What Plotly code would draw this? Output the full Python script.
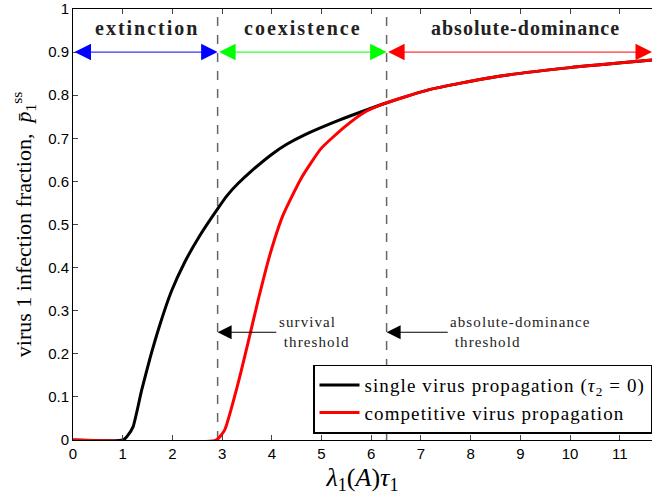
import plotly.graph_objects as go

# ---- data ----
single_x = [0, 1.01, 1.1, 1.21, 1.38, 1.55, 1.75, 1.98, 2.25, 2.55, 2.92, 3.1, 3.32, 3.6,
            3.99, 4.3, 4.66, 5.33, 5.86, 6.30, 7.17, 8.51, 10.0, 11.7]
single_y = [0, 0, 0.01, 0.031, 0.115, 0.19, 0.268, 0.345, 0.413, 0.474, 0.538, 0.567, 0.595, 0.625,
            0.662, 0.686, 0.708, 0.741, 0.764, 0.782, 0.813, 0.843, 0.864, 0.882]

comp_x = [0, 2.88, 3.05, 3.32, 3.52, 3.72, 3.95, 4.22, 4.59, 4.99, 5.46, 5.86, 6.30,
          7.17, 8.51, 10.0, 11.7]
comp_y = [0, 0, 0.023, 0.131, 0.225, 0.322, 0.425, 0.52, 0.607, 0.676, 0.726, 0.760, 0.782,
          0.813, 0.843, 0.864, 0.882]

survival_threshold = 2.91
dominance_threshold = 6.31
x_max = 11.65

region_names = ["extinction", "coexistence", "absolute-dominance"]
region_bounds = [0, survival_threshold, dominance_threshold, x_max]
region_colors = ["#0000ff", "#00ff00", "#ff0000"]
region_arrow_y = 0.9
region_label_y = 0.957

x_ticks = list(range(0, 12))
y_ticks = [0, 0.1, 0.2, 0.3, 0.4, 0.5, 0.6, 0.7, 0.8, 0.9, 1]

SERIF = "Liberation Serif"
SANS = "Liberation Sans"


def spaced(text, px):
    return '<span style="letter-spacing:%spx">%s</span>' % (px, text)


fig = go.Figure()

# threshold dashed lines
for xt in [survival_threshold, dominance_threshold]:
    fig.add_trace(go.Scatter(x=[xt, xt], y=[0, 1], mode="lines",
                             line=dict(color="#666666", width=1.5, dash="dash"),
                             showlegend=False, hoverinfo="skip"))

fig.add_trace(go.Scatter(x=single_x, y=single_y, mode="lines",
                         line=dict(color="black", width=3, shape="spline", smoothing=0.5),
                         name=spaced("single virus propagation (<i>τ</i><sub>2</sub> = 0)", 1.1),
                         cliponaxis=False))
fig.add_trace(go.Scatter(x=comp_x, y=comp_y, mode="lines",
                         line=dict(color="red", width=3, shape="spline", smoothing=0.5),
                         name=spaced("competitive virus propagation", 1.1),
                         cliponaxis=False))

annotations = []
for i, name in enumerate(region_names):
    x0, x1 = region_bounds[i], region_bounds[i + 1]
    annotations.append(dict(x=x1, y=region_arrow_y, ax=x0, ay=region_arrow_y,
                            xref="x", yref="y", axref="x", ayref="y",
                            text="", showarrow=True, arrowside="end+start",
                            arrowhead=2, startarrowhead=2,
                            arrowsize=3.3, startarrowsize=3.3, arrowwidth=1,
                            arrowcolor=region_colors[i]))
label_x = [1.49, 4.62, 9.1]
label_spacing = [2.0, 2.0, 1.0]
for i, name in enumerate(region_names):
    annotations.append(dict(x=label_x[i], y=region_label_y, xref="x", yref="y",
                            text="<b>" + spaced(name, label_spacing[i]) + "</b>", showarrow=False,
                            font=dict(family=SERIF, size=20, color="#222222")))

# threshold arrows
arrow_y = 0.25
annotations.append(dict(x=survival_threshold, y=arrow_y, ax=4.12, ay=arrow_y,
                        xref="x", yref="y", axref="x", ayref="y", text="",
                        showarrow=True, arrowhead=2, arrowsize=2.8, arrowwidth=1,
                        arrowcolor="black"))
annotations.append(dict(x=dominance_threshold, y=arrow_y, ax=7.57, ay=arrow_y,
                        xref="x", yref="y", axref="x", ayref="y", text="",
                        showarrow=True, arrowhead=2, arrowsize=2.8, arrowwidth=1,
                        arrowcolor="black"))
annotations.append(dict(x=4.1, y=arrow_y, xref="x", yref="y", xanchor="left",
                        yanchor="middle", align="left", showarrow=False,
                        text=spaced("survival<br>&nbsp;threshold", 1.1),
                        font=dict(family=SERIF, size=15, color="#222222")))
annotations.append(dict(x=7.55, y=arrow_y, xref="x", yref="y", xanchor="left",
                        yanchor="middle", align="left", showarrow=False,
                        text=spaced("absolute-dominance<br>&nbsp;threshold", 1.1),
                        font=dict(family=SERIF, size=15, color="#222222")))

fig.update_layout(
    width=652, height=501,
    margin=dict(l=73, r=0, t=6, b=61),
    plot_bgcolor="white", paper_bgcolor="white",
    showlegend=True,
    legend=dict(x=1, y=0.015, xanchor="right", yanchor="bottom",
                bordercolor="black", borderwidth=1.5, bgcolor="white",
                font=dict(family=SERIF, size=19, color="black"),
                tracegroupgap=0, itemwidth=40),
    annotations=annotations,
    xaxis=dict(range=[0, x_max], tickvals=x_ticks, ticks="inside", ticklen=5,
               showline=True, linecolor="black", linewidth=1, mirror="ticks",
               showgrid=False, zeroline=False, ticklabeloverflow="allow",
               tickfont=dict(family=SANS, size=15, color="black"),
               title=dict(text="<i>λ</i><sub>1</sub>(<i>A</i>)<i>τ</i><sub>1</sub>",
                          font=dict(family=SERIF, size=26, color="black"), standoff=6)),
    yaxis=dict(range=[0, 1], tickvals=y_ticks, ticks="inside", ticklen=5,
               showline=True, linecolor="black", linewidth=1, mirror=False,
               showgrid=False, zeroline=False, ticklabeloverflow="allow",
               tickfont=dict(family=SANS, size=15, color="black"),
               title=dict(text="virus 1 infection fraction,  <i>p̄</i><sub>1</sub><sup>ss</sup>",
                          font=dict(family=SERIF, size=22, color="black"), standoff=10)),
)

fig.write_html("out.html")
